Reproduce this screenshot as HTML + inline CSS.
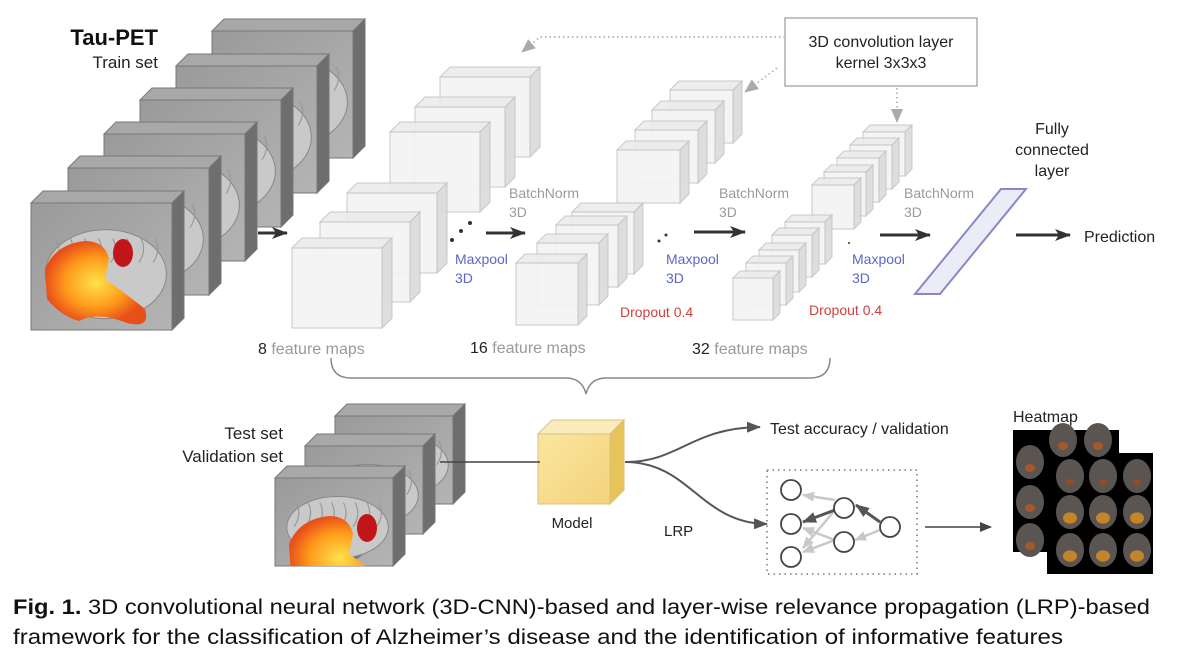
<!DOCTYPE html>
<html><head><meta charset="utf-8"><style>
html,body{margin:0;padding:0;background:#fff;}
svg{display:block;font-family:"Liberation Sans",sans-serif;}
</style></head><body>
<svg id="s" width="1187" height="661" viewBox="0 0 1187 661" xmlns="http://www.w3.org/2000/svg">
<defs>
<linearGradient id="gf" x1="0" y1="0" x2="1" y2="1"><stop offset="0" stop-color="#9a9a9a"/><stop offset="1" stop-color="#b4b4b4"/></linearGradient>
<linearGradient id="yf" x1="0" y1="0" x2="1" y2="1"><stop offset="0" stop-color="#fbe6a0"/><stop offset="1" stop-color="#f3d27a"/></linearGradient>
<radialGradient id="hot" cx="0.5" cy="0.5" r="0.5"><stop offset="0" stop-color="#ffe24a"/><stop offset="0.6" stop-color="#ff9a1a"/><stop offset="1" stop-color="#e8501a"/></radialGradient>
<marker id="ah" markerWidth="16" markerHeight="12" refX="15" refY="6" orient="auto" markerUnits="userSpaceOnUse"><path d="M0,0 L16,6 L0,12 L4,6 z" fill="#333"/></marker>
<marker id="ah2" markerWidth="12" markerHeight="10" refX="11" refY="5" orient="auto" markerUnits="userSpaceOnUse"><path d="M0,0 L12,5 L0,10 z" fill="#444"/></marker>
<marker id="ahg" markerWidth="14" markerHeight="12" refX="13" refY="6" orient="auto" markerUnits="userSpaceOnUse"><path d="M0,0 L14,6 L0,12 z" fill="#aaa"/></marker>
<marker id="ahd" markerWidth="14" markerHeight="11" refX="13" refY="5.5" orient="auto" markerUnits="userSpaceOnUse"><path d="M0,0 L14,5.5 L0,11 z" fill="#555"/></marker>
<marker id="ahl" markerWidth="12" markerHeight="10" refX="11" refY="5" orient="auto" markerUnits="userSpaceOnUse"><path d="M0,0 L12,5 L0,10 z" fill="#c8c8c8"/></marker>
</defs>
<g id="cubes"></g>

<text x="158" y="45" font-size="22" font-weight="bold" text-anchor="end" fill="#111">Tau-PET</text>
<text x="158" y="68" font-size="17" text-anchor="end" fill="#222">Train set</text>

<g stroke="#333" stroke-width="3" fill="none">
<line x1="258" y1="233" x2="287" y2="233" marker-end="url(#ah)"/>
<line x1="486" y1="233" x2="525" y2="233" marker-end="url(#ah)"/>
<line x1="694" y1="232" x2="745" y2="232" marker-end="url(#ah)"/>
<line x1="880" y1="235" x2="930" y2="235" marker-end="url(#ah)"/>
<line x1="1016" y1="235" x2="1070" y2="235" marker-end="url(#ah)"/>
</g>
<g fill="#333"><circle cx="452" cy="240" r="2"/><circle cx="461" cy="231" r="2"/><circle cx="470" cy="223" r="2"/><circle cx="659" cy="241" r="1.5"/><circle cx="666" cy="235" r="1.5"/><circle cx="849" cy="243" r="1" /></g>

<rect x="785" y="18" width="192" height="68" fill="#fff" stroke="#999" stroke-width="1.2"/>
<text x="881" y="47" font-size="16" text-anchor="middle" fill="#222">3D convolution layer</text>
<text x="881" y="68" font-size="16" text-anchor="middle" fill="#222">kernel 3x3x3</text>
<g stroke="#bbb" stroke-width="2" stroke-dasharray="1.5 3" fill="none">
<path d="M785,37 L540,37 L522,52" marker-end="url(#ahg)"/>
<path d="M777,68 L745,92" marker-end="url(#ahg)"/>
<path d="M897,88 L897,122" marker-end="url(#ahg)"/>
</g>

<g font-size="14" fill="#9a9a9a">
<text x="509" y="198">BatchNorm</text><text x="509" y="217">3D</text>
<text x="719" y="198">BatchNorm</text><text x="719" y="217">3D</text>
<text x="904" y="198">BatchNorm</text><text x="904" y="217">3D</text>
</g>
<g font-size="14" fill="#5b66c8">
<text x="455" y="264">Maxpool</text><text x="455" y="283">3D</text>
<text x="666" y="264">Maxpool</text><text x="666" y="283">3D</text>
<text x="852" y="264">Maxpool</text><text x="852" y="283">3D</text>
</g>
<g font-size="14" fill="#d04040">
<text x="620" y="317">Dropout 0.4</text>
<text x="809" y="315">Dropout 0.4</text>
</g>
<g font-size="16" fill="#999">
<text x="258" y="354"><tspan fill="#222">8</tspan> feature maps</text>
<text x="470" y="353"><tspan fill="#222">16</tspan> feature maps</text>
<text x="692" y="354"><tspan fill="#222">32</tspan> feature maps</text>
</g>

<polygon points="915,294 940,294 1026,189 1001,189" fill="#ececf6" stroke="#8b86c8" stroke-width="2"/>
<g font-size="16" fill="#222" text-anchor="middle">
<text x="1052" y="134">Fully</text><text x="1052" y="155">connected</text><text x="1052" y="176">layer</text>
</g>
<text x="1084" y="242" font-size="16" fill="#222">Prediction</text>

<path d="M331,358 Q331,378 351,378 L566,378 Q582,378 586,394 Q590,378 606,378 L810,378 Q830,378 830,358" fill="none" stroke="#888" stroke-width="1.5"/>

<text x="283" y="439" font-size="17" text-anchor="end" fill="#222">Test set</text>
<text x="283" y="462" font-size="17" text-anchor="end" fill="#222">Validation set</text>
<g id="cubes2"></g>
<line x1="440" y1="462" x2="540" y2="462" stroke="#444" stroke-width="1.5"/>
<text x="572" y="528" font-size="15" text-anchor="middle" fill="#222">Model</text>
<path d="M625,462 C680,462 690,428 760,427" fill="none" stroke="#555" stroke-width="2" marker-end="url(#ahd)"/>
<path d="M625,462 C690,462 700,523 767,524" fill="none" stroke="#555" stroke-width="2" marker-end="url(#ahd)"/>
<text x="770" y="434" font-size="16" fill="#222">Test accuracy / validation</text>
<text x="664" y="536" font-size="15" fill="#222">LRP</text>
<rect x="767" y="470" width="150" height="104" fill="none" stroke="#999" stroke-width="2" stroke-dasharray="1.5 4"/>
<g stroke="#c8c8c8" stroke-width="2.5" fill="none">
<line x1="835" y1="500" x2="803" y2="495" marker-end="url(#ahl)"/>
<line x1="835" y1="540" x2="803" y2="528" marker-end="url(#ahl)"/>
<line x1="835" y1="540" x2="803" y2="552" marker-end="url(#ahl)"/>
<line x1="835" y1="510" x2="803" y2="548" marker-end="url(#ahl)"/>
<line x1="880" y1="530" x2="855" y2="540" marker-end="url(#ahl)"/>
</g>
<g stroke="#555" stroke-width="3" fill="none">
<line x1="835" y1="510" x2="803" y2="522" marker-end="url(#ahd)"/>
<line x1="880" y1="522" x2="856" y2="505" marker-end="url(#ahd)"/>
</g>
<g fill="#fff" stroke="#444" stroke-width="1.8">
<circle cx="791" cy="490" r="10"/><circle cx="791" cy="524" r="10"/><circle cx="791" cy="557" r="10"/>
<circle cx="844" cy="508" r="10"/><circle cx="844" cy="542" r="10"/><circle cx="890" cy="527" r="10"/>
</g>
<line x1="925" y1="527" x2="991" y2="527" stroke="#444" stroke-width="1.5" marker-end="url(#ah2)"/>
<text x="1013" y="422" font-size="16" fill="#222">Heatmap</text>
<rect x="1013" y="430" width="106" height="122" fill="#000"/>
<rect x="1047" y="453" width="106" height="121" fill="#000"/>
<g id="slices"></g>

<text x="13" y="614" font-size="21" fill="#111" textLength="1137" lengthAdjust="spacingAndGlyphs"><tspan font-weight="bold">Fig. 1.</tspan>  3D convolutional neural network (3D-CNN)-based and layer-wise relevance propagation (LRP)-based</text>
<text x="13" y="644" font-size="21" fill="#111" textLength="1050" lengthAdjust="spacingAndGlyphs">framework for the classification of Alzheimer’s disease and the identification of informative features</text>
</svg>
<script>
var NS="http://www.w3.org/2000/svg";
function el(p,t,a){var e=document.createElementNS(NS,t);for(var k in a)e.setAttribute(k,a[k]);p.appendChild(e);return e;}
function cube(g,x,y,w,h,d,c){
 el(g,"polygon",{points:[x,y,x+d,y-d,x+w+d,y-d,x+w,y].join(","),fill:c.t,stroke:c.s,"stroke-width":1,opacity:c.o||1});
 el(g,"polygon",{points:[x+w,y,x+w+d,y-d,x+w+d,y+h-d,x+w,y+h].join(","),fill:c.r,stroke:c.s,"stroke-width":1,opacity:c.o||1});
 el(g,"rect",{x:x,y:y,width:w,height:h,fill:c.f,stroke:c.s,"stroke-width":1,opacity:c.o||1});
}
var G=document.getElementById("cubes");
var gray={t:"#a8a8a8",r:"#6e6e6e",f:"url(#gf)",s:"#777"};
function brain(g,x,y,w,h,front){
 var cx=x+w*0.53,cy=y+h*0.56;
 el(g,"ellipse",{cx:cx+4,cy:cy+22,rx:w*0.2,ry:h*0.14,fill:"#777"});
 el(g,"ellipse",{cx:cx,cy:cy,rx:w*0.43,ry:h*0.35,fill:"#c9c9c9",stroke:"#888","stroke-width":1});
 for(var i=0;i<8;i++)el(g,"path",{d:"M"+(cx-w*0.35+i*w*0.1)+","+(cy-h*0.28)+" q6,12 -2,24",stroke:"#999",fill:"none","stroke-width":1.2});
 if(front){
  el(g,"path",{d:"M"+(x+14)+","+(y+66)+" q10,-25 40,-28 q20,0 24,18 l-4,20 q20,14 40,30 q6,20 -18,14 q-30,-12 -48,-2 q-18,-5 -32,-22 z",fill:"url(#hot)"});
  el(g,"ellipse",{cx:x+92,cy:y+50,rx:10,ry:14,fill:"#c0161a"});
 } else {
  el(g,"ellipse",{cx:cx-18,cy:cy-24,rx:10,ry:5,fill:"#b01818"});
  el(g,"ellipse",{cx:cx+20,cy:cy-22,rx:12,ry:6,fill:"#b01818"});
 }
}
var bp=[[212,31],[176,66],[140,100],[104,134],[68,168],[31,203]];
bp.forEach(function(p,i){cube(G,p[0],p[1],141,127,12,gray);var gg=el(G,"g",{});var cp=el(gg,"clipPath",{id:"c"+i});el(cp,"rect",{x:p[0],y:p[1],width:141,height:127});var b=el(gg,"g",{"clip-path":"url(#c"+i+")"});brain(b,p[0],p[1],141,127,i==5);});
var lt={t:"#ececec",r:"#dcdcdc",f:"#f4f4f4",s:"#c4c4c4",o:0.92};
[[440,77],[415,107],[390,132]].forEach(function(p){cube(G,p[0],p[1],90,80,10,lt);});
[[347,193],[320,222],[292,248]].forEach(function(p){cube(G,p[0],p[1],90,80,10,lt);});
[[670,90],[652,110],[635,130],[617,150]].forEach(function(p){cube(G,p[0],p[1],63,53,9,lt);});
[[572,212],[556,225],[537,243],[516,263]].forEach(function(p){cube(G,p[0],p[1],62,62,9,lt);});
[[863,132],[850,145],[837,158],[824,172],[812,185]].forEach(function(p){cube(G,p[0],p[1],42,44,7,lt);});
[[785,222],[772,235],[759,250],[746,263],[733,278]].forEach(function(p){cube(G,p[0],p[1],40,42,7,lt);});
var G2=document.getElementById("cubes2");
[[335,416],[305,446],[275,478]].forEach(function(p,i){cube(G2,p[0],p[1],118,88,12,gray);var gg=el(G2,"g",{});var cp=el(gg,"clipPath",{id:"d"+i});el(cp,"rect",{x:p[0],y:p[1],width:118,height:88});var b=el(gg,"g",{"clip-path":"url(#d"+i+")"});brain(b,p[0],p[1],118,88,i==2);});
cube(G2,538,434,72,70,14,{t:"#f8ecbc",r:"#e6c45a",f:"url(#yf)",s:"#d8c080"});
var S=document.getElementById("slices");
function slice(x,y,hot,r){el(S,"ellipse",{cx:x,cy:y,rx:14,ry:17,fill:"#5a5550"});el(S,"ellipse",{cx:x,cy:y+6,rx:r,ry:r*0.8,fill:hot,opacity:0.8});}
[[1030,462],[1030,502],[1030,540],[1063,440],[1098,440]].forEach(function(p){slice(p[0],p[1],"#b85a20",5);});
[1070,1103,1137].forEach(function(x){[476,512,550].forEach(function(y){slice(x,y,y==476?"#a04a20":"#e09020",y==476?4:7);});});
</script>
</body></html>
